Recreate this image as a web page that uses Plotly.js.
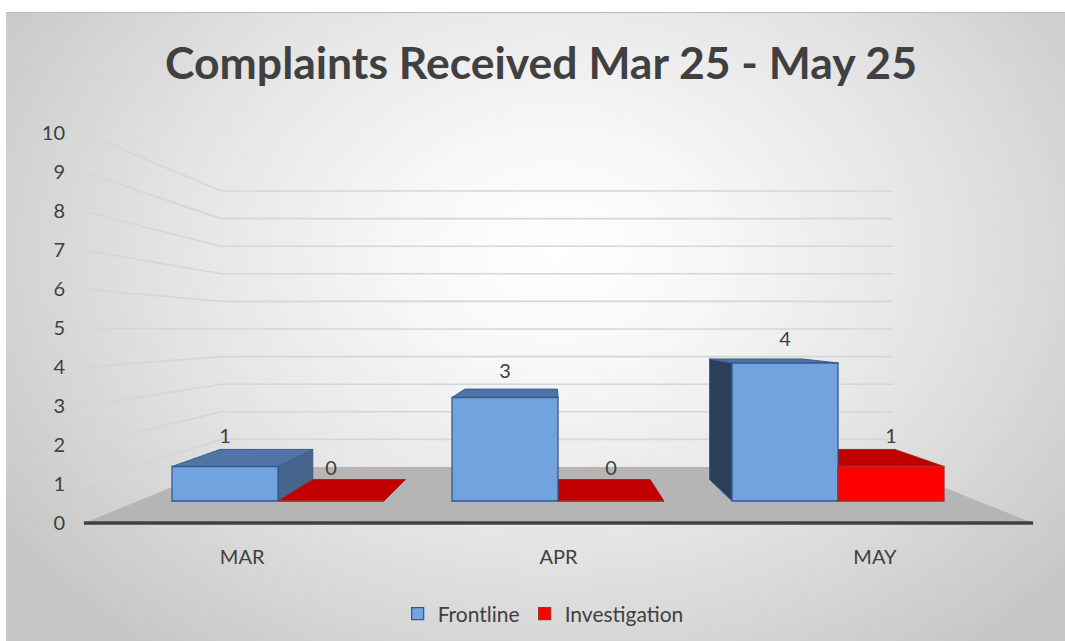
<!DOCTYPE html>
<html>
<head>
<meta charset="utf-8">
<script src="https://cdn.plot.ly/plotly-3.0.1.min.js"></script>
<style>
  html, body { margin:0; padding:0; background:#ffffff; width:1065px; height:641px; overflow:hidden; }
  #bg { position:absolute; left:6px; top:12px; width:1059px; height:629px;
        border-top:1px solid #b9b9b9;
        background: radial-gradient(ellipse 62% 80% at 52% 38%, #ffffff 0%, #f7f7f7 24%, #e3e3e3 60%, #c7c7c7 100%); }
  #chart { position:absolute; left:0; top:0; width:1065px; height:641px; }
</style>
</head>
<body>
<div id="bg"></div>
<div id="chart"></div>
<script>
// ---------------- data ----------------
const categories = ['MAR', 'APR', 'MAY'];
const frontline = [1, 3, 4];
const investigation = [0, 0, 1];
const seriesNames = ['Frontline', 'Investigation'];
const yTicks = [0, 1, 2, 3, 4, 5, 6, 7, 8, 9, 10];
const chartTitle = 'Complaints Received Mar 25 - May 25';

// ---------------- styling / geometry ----------------
const W = 1065, H = 641;
const PX_PER_CAT = 280, X0_PX = 278;       // category spacing on the bar front plane
const BASE_PX = 501, PX_PER_UNIT = 34.5;   // bar front plane value scale
const VP_PX = [554, 331];                  // perspective vanishing point
const S_BAR_BACK = 0.874, S_FLOOR_FRONT = 1.13, S_WALL = 0.8;
const S_MID = (1 + S_BAR_BACK) / 2;
const LABEL_OFFSET_PX = 20;
const BARGAP = 0.243;
const FONT = 'Lato, "Open Sans", sans-serif';
const TXT = '#404040';

const xRange = [-X0_PX / PX_PER_CAT, (W - X0_PX) / PX_PER_CAT];
const yRange = [-(H - BASE_PX) / PX_PER_UNIT, BASE_PX / PX_PER_UNIT];
const uVP = (VP_PX[0] - X0_PX) / PX_PER_CAT;
const vVP = (BASE_PX - VP_PX[1]) / PX_PER_UNIT;
function proj(u, v, s) { return [uVP + s * (u - uVP), vVP + s * (v - vVP)]; }
// bar-plane value -> front plane (tick-label axis) value
const toFront = v => vVP + (v - vVP) / S_FLOOR_FRONT;
const frontRange = yRange.map(toFront);
const frontPxPerUnit = PX_PER_UNIT * S_FLOOR_FRONT;

const nCat = categories.length;
const uMin = -0.5, uMax = nCat - 0.5;
const barW = (1 - BARGAP) / 2;

const traces = [];

// gridlines (back wall + left wall)
const gx = [], gy = [];
yTicks.filter(t => t > 0).forEach(t => {
  const a = proj(uMin, t, S_FLOOR_FRONT), b = proj(uMin, t, S_WALL), c = proj(uMax, t, S_WALL);
  gx.push(a[0], b[0], c[0], null); gy.push(a[1], b[1], c[1], null);
});
traces.push({ type:'scatter', mode:'lines', x:gx, y:gy, line:{color:'#d6d6d6', width:1.6},
  hoverinfo:'skip', showlegend:false });

// floor
const fl = [proj(uMin,0,S_FLOOR_FRONT), proj(uMax,0,S_FLOOR_FRONT), proj(uMax,0,S_WALL), proj(uMin,0,S_WALL)];
traces.push({ type:'scatter', mode:'lines', fill:'toself', fillcolor:'#b5b5b5',
  x: fl.map(p=>p[0]).concat([fl[0][0]]), y: fl.map(p=>p[1]).concat([fl[0][1]]),
  line:{width:0, color:'#b5b5b5'}, hoverinfo:'skip', showlegend:false });
traces.push({ type:'scatter', mode:'lines', x:[fl[0][0], fl[1][0]], y:[fl[0][1], fl[1][1]],
  line:{color:'#404040', width:3.5}, hoverinfo:'skip', showlegend:false });

// 3D faces of the bars
const seriesVals = [frontline, investigation];
const faceCol = [
  { top:'#4f74a5', right:'#47648d', left:'#2b3f5a', edge:'#355d92', front:'#72a3de', line:'#2f5b93' },
  { top:'#c00000', right:'#900000', left:'#900000', edge:'#a52020', front:'#ff0000', line:'#b02a2a' }
];
function poly(pts, fill, edge) {
  traces.push({ type:'scatter', mode:'lines', fill:'toself', fillcolor:fill,
    x: pts.map(p=>p[0]).concat([pts[0][0]]), y: pts.map(p=>p[1]).concat([pts[0][1]]),
    line:{color:edge, width:1}, hoverinfo:'skip', showlegend:false });
}
const labelX = [], labelY = [], labelT = [];
seriesVals.forEach((vals, j) => {
  vals.forEach((v, i) => {
    const uL = j === 0 ? i - barW : i;
    const uR = j === 0 ? i : i + barW;
    const col = faceCol[j];
    if (v > 0) {
      if (uR < uVP) poly([[uR,0],[uR,v],proj(uR,v,S_BAR_BACK),proj(uR,0,S_BAR_BACK)], col.right, col.edge);
      if (uL > uVP) poly([[uL,0],[uL,v],proj(uL,v,S_BAR_BACK),proj(uL,0,S_BAR_BACK)], col.left, col.edge);
    }
    poly([[uL,v],[uR,v],proj(uR,v,S_BAR_BACK),proj(uL,v,S_BAR_BACK)], col.top, col.edge);
    labelX.push((uL + uR) / 2);
    labelY.push(toFront(proj(uL, v, S_MID)[1]) + LABEL_OFFSET_PX / frontPxPerUnit);
    labelT.push(String(v));
  });
});

// front faces: real bar traces (on an overlaid subplot so they sit above the faces)
seriesVals.forEach((vals, j) => {
  traces.push({ type:'bar', name:seriesNames[j], x:categories.map((c,i)=>i), y:vals, yaxis:'y2',
    marker:{color:faceCol[j].front, line:{color:faceCol[j].line, width:1.3}},
    hoverinfo:'name+y' });
});

// data labels on the front-plane axis (drawn last)
traces.push({ type:'scatter', mode:'text', x:labelX, y:labelY, text:labelT, yaxis:'y3',
  textposition:'middle center', textfont:{family:FONT, size:20, color:TXT},
  hoverinfo:'skip', showlegend:false, cliponaxis:false });

const xTickVals = categories.map((c, i) => proj(i, 0, S_FLOOR_FRONT)[0]);

const layout = {
  width: W, height: H,
  margin: {l:0, r:0, t:0, b:0},
  paper_bgcolor: 'rgba(0,0,0,0)', plot_bgcolor: 'rgba(0,0,0,0)',
  barmode: 'group', bargap: BARGAP, bargroupgap: 0,
  title: { text: '<b>' + chartTitle + '</b>', x: 0.508, xanchor:'center', y: 1 - 63 / H, yanchor:'middle',
           xref:'paper', yref:'paper', font:{family:FONT, size:44.5, color:TXT} },
  xaxis: { range: xRange, domain:[0,1], anchor:'free', position: 1 - 543 / H,
           tickvals: xTickVals, ticktext: categories, showgrid:false, zeroline:false, showline:false,
           ticks:'', tickfont:{family:FONT, size:20, color:TXT}, fixedrange:true },
  yaxis: { range: yRange, domain:[0,1], visible:false, fixedrange:true },
  yaxis2: { range: yRange, overlaying:'y', visible:false, fixedrange:true },
  yaxis3: { range: frontRange, overlaying:'y', anchor:'free', position: 65 / W, side:'left',
            tickvals: yTicks, showgrid:false, zeroline:false, showline:false, ticks:'',
            tickfont:{family:FONT, size:20, color:TXT}, fixedrange:true },
  legend: { orientation:'h', x:0.51, xanchor:'center', y: 1 - 614 / H, yanchor:'middle',
            font:{family:FONT, size:21, color:TXT}, bgcolor:'rgba(0,0,0,0)', itemwidth:30 },
  showlegend: true
};

Plotly.newPlot('chart', traces, layout, {displayModeBar:false, staticPlot:true});
</script>
</body>
</html>
